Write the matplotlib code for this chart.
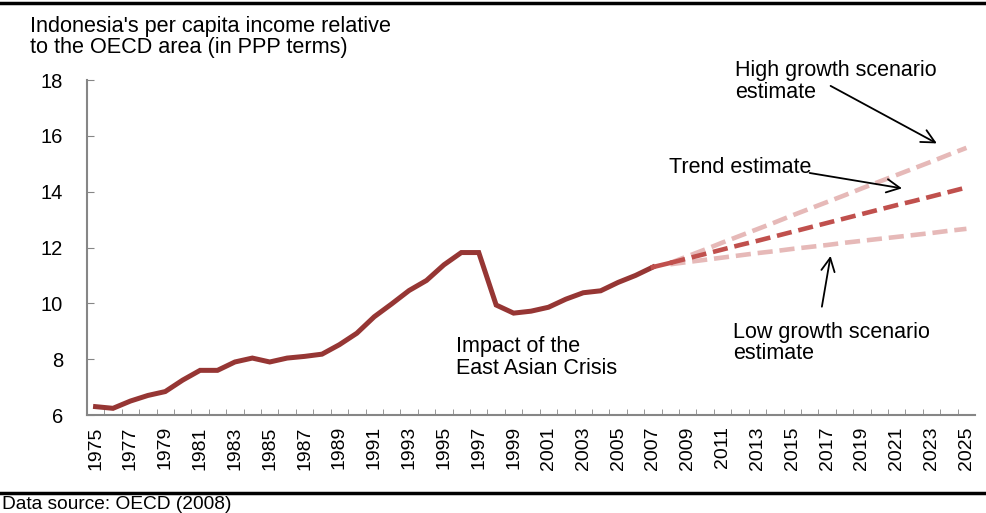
import matplotlib.pyplot as plt
from matplotlib.lines import Line2D

plt.rcParams['font.family'] = ['Liberation Sans', 'DejaVu Sans']

# historical ratio, 1975-2007
years = list(range(1975, 2008))
income = [6.30, 6.24, 6.50, 6.70, 6.84, 7.25, 7.60, 7.60, 7.90, 8.04,
          7.90, 8.04, 8.10, 8.18, 8.52, 8.93, 9.52, 9.98, 10.46, 10.82,
          11.38, 11.82, 11.82, 9.94, 9.65, 9.72, 9.86, 10.15, 10.38, 10.45,
          10.75, 11.00, 11.30]

# projections, 2008-2025
proj_years = list(range(2008, 2026))
trend = [11.45, 11.61, 11.77, 11.93, 12.09, 12.24, 12.40, 12.56, 12.72,
         12.88, 13.04, 13.20, 13.36, 13.52, 13.67, 13.83, 13.99, 14.15]
high = [11.45, 11.69, 11.93, 12.18, 12.42, 12.66, 12.90, 13.15, 13.39,
        13.63, 13.87, 14.12, 14.36, 14.60, 14.84, 15.08, 15.33, 15.57]
low = [11.40, 11.48, 11.56, 11.64, 11.72, 11.80, 11.87, 11.95, 12.02,
       12.09, 12.17, 12.24, 12.31, 12.38, 12.45, 12.52, 12.60, 12.67]

tick_years = list(range(1975, 2026, 2))

fig = plt.figure(figsize=(9.87, 5.13), dpi=100)
ax = fig.add_axes([0.088, 0.191, 0.9, 0.653])

pink = '#E6B9B8'
dash = (0, (3.3, 1.5))
ax.plot(proj_years, high, color=pink, lw=3.3, ls=dash)
ax.plot(proj_years, low, color=pink, lw=3.3, ls=dash)
ax.plot(proj_years, trend, color='#C0504D', lw=3.3, ls=dash)
ax.plot(years, income, color='#963634', lw=3.6, solid_joinstyle='miter')
ax.plot([2007, 2008], [income[-1], trend[0]], color='#C0504D', lw=3.3)

ax.set_xlim(1974.5, 2025.5)
ax.set_ylim(6, 18)
ax.set_yticks(range(6, 19, 2))
ax.set_xticks(tick_years)
ax.set_xticklabels([str(y) for y in tick_years], rotation=90)
ax.set_xticks([y + 0.5 for y in range(1974, 2025)], minor=True)

for s in ['top', 'right']:
    ax.spines[s].set_visible(False)
for s in ['left', 'bottom']:
    ax.spines[s].set_color('#868686')
    ax.spines[s].set_linewidth(1.5)
ax.tick_params(axis='y', direction='in', length=5, color='#868686', labelsize=14.5, pad=17)
ax.tick_params(axis='x', which='major', length=0, labelsize=14, pad=8)
ax.tick_params(axis='x', which='minor', direction='in', length=4, color='#868686')

fig.text(0.030, 0.968, "Indonesia's per capita income relative\nto the OECD area (in PPP terms)",
         fontsize=15.6, va='top', linespacing=1.0)

# annotation texts
ax.text(2011.7, 17.95, 'High growth scenario\nestimate', fontsize=15.5, va='center', linespacing=1.05)
ax.text(2007.9, 14.88, 'Trend estimate', fontsize=15.5, va='center')
ax.text(2011.6, 8.58, 'Low growth scenario\nestimate', fontsize=15.5, va='center', linespacing=1.05)
ax.text(1995.7, 8.07, 'Impact of the\nEast Asian Crisis', fontsize=15.5, va='center', linespacing=1.05)

# arrows pointing at the projection lines
arrow = dict(arrowstyle='->', color='black', lw=1.3, mutation_scale=24, shrinkA=0, shrinkB=0)
ax.annotate('', xy=(2023.3, 15.73), xytext=(2017.2, 17.79), arrowprops=arrow)
ax.annotate('', xy=(2021.3, 14.12), xytext=(2016.0, 14.67), arrowprops=arrow)
ax.annotate('', xy=(2017.2, 11.70), xytext=(2016.7, 9.88), arrowprops=arrow)

fig.add_artist(Line2D([0, 1], [0.994, 0.994], color='black', lw=2.5))
fig.add_artist(Line2D([0, 1], [0.039, 0.039], color='black', lw=2.5))
fig.text(0.002, 0.033, 'Data source: OECD (2008)', fontsize=13.8, va='top')

fig.savefig('out.png', dpi=100)
